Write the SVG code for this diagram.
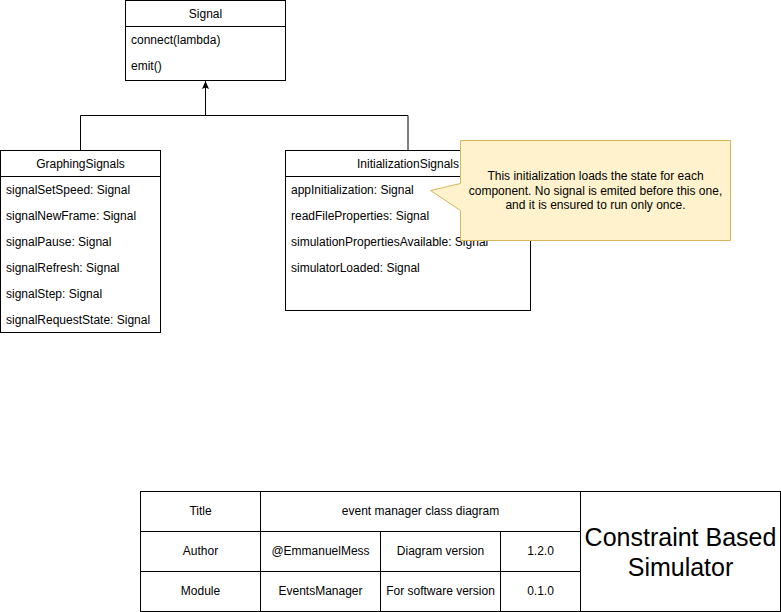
<svg xmlns="http://www.w3.org/2000/svg" width="781" height="612" viewBox="0 0 781 612">
  <defs>
    <marker id="arrow" viewBox="0 0 8 10" refX="8" refY="5" markerWidth="8" markerHeight="10" markerUnits="userSpaceOnUse" orient="auto">
      <path d="M0,1.5 L8,5 L0,8.5 L1.5,5 Z" fill="#000"/>
    </marker>
  </defs>
  <style>
    text { font-family: "Liberation Sans", Arial, Helvetica, sans-serif; font-size: 12px; fill: #000; }
    .box { fill: #fff; stroke: #000; stroke-width: 1; }
    .line { fill: none; stroke: #000; stroke-width: 1; }
    .c { text-anchor: middle; }
    .note { fill: #fff2cc; stroke: #d6b656; stroke-width: 1; }
    .big { font-size: 25px; }
  </style>

  <!-- inheritance connectors -->
  <g id="connectors">
    <path class="line" d="M80.5,150 V115.5 H408 V150"/>
    <path class="line" d="M205.5,115.5 V81" marker-end="url(#arrow)"/>
  </g>

  <!-- base class -->
  <g id="signal">
    <rect class="box" x="125.5" y="0.5" width="160" height="80"/>
    <line class="line" x1="125.5" y1="26.5" x2="285.5" y2="26.5"/>
    <text class="c" x="205.5" y="17.5">Signal</text>
    <text x="131" y="44">connect(lambda)</text>
    <text x="131" y="70">emit()</text>
  </g>

  <g id="graphing-signals">
    <rect class="box" x="0.5" y="150.5" width="160" height="182"/>
    <line class="line" x1="0.5" y1="176.5" x2="160.5" y2="176.5"/>
    <text class="c" x="80.5" y="167.5">GraphingSignals</text>
    <text x="6" y="194">signalSetSpeed: Signal</text>
    <text x="6" y="220">signalNewFrame: Signal</text>
    <text x="6" y="246">signalPause: Signal</text>
    <text x="6" y="272">signalRefresh: Signal</text>
    <text x="6" y="298">signalStep: Signal</text>
    <text x="6" y="324">signalRequestState: Signal</text>
  </g>

  <g id="initialization-signals">
    <rect class="box" x="285.5" y="150.5" width="245" height="160"/>
    <line class="line" x1="285.5" y1="176.5" x2="530.5" y2="176.5"/>
    <text class="c" x="408" y="167.5">InitializationSignals</text>
    <text x="291" y="194">appInitialization: Signal</text>
    <text x="291" y="220">readFileProperties: Signal</text>
    <text x="291" y="246">simulationPropertiesAvailable: Signal</text>
    <text x="291" y="272">simulatorLoaded: Signal</text>
  </g>

  <!-- note attached to appInitialization -->
  <g id="note">
    <path class="note" d="M460.5,140.5 H730.5 V240.5 H460.5 V210.5 L430.5,190.5 L460.5,183.5 Z"/>
    <text class="c" x="595.5" y="180">This initialization loads the state for each</text>
    <text class="c" x="595.5" y="194.5">component. No signal is emited before this one,</text>
    <text class="c" x="595.5" y="209">and it is ensured to run only once.</text>
  </g>

  <!-- title block -->
  <g id="title-block">
    <rect class="box" x="140.5" y="491.5" width="640" height="120"/>
    <line class="line" x1="140.5" y1="531.5" x2="580.5" y2="531.5"/>
    <line class="line" x1="140.5" y1="571.5" x2="580.5" y2="571.5"/>
    <line class="line" x1="260.5" y1="491.5" x2="260.5" y2="611.5"/>
    <line class="line" x1="380.5" y1="531.5" x2="380.5" y2="611.5"/>
    <line class="line" x1="500.5" y1="531.5" x2="500.5" y2="611.5"/>
    <line class="line" x1="580.5" y1="491.5" x2="580.5" y2="611.5"/>
    <text class="c" x="200.5" y="514.5">Title</text>
    <text class="c" x="420.5" y="514.5">event manager class diagram</text>
    <text class="c" x="200.5" y="554.5">Author</text>
    <text class="c" x="320.5" y="554.5">@EmmanuelMess</text>
    <text class="c" x="440.5" y="554.5">Diagram version</text>
    <text class="c" x="540.5" y="554.5">1.2.0</text>
    <text class="c" x="200.5" y="594.5">Module</text>
    <text class="c" x="320.5" y="594.5">EventsManager</text>
    <text class="c" x="440.5" y="594.5">For software version</text>
    <text class="c" x="540.5" y="594.5">0.1.0</text>
    <text class="c big" x="680.5" y="546">Constraint Based</text>
    <text class="c big" x="680.5" y="576">Simulator</text>
  </g>
</svg>
